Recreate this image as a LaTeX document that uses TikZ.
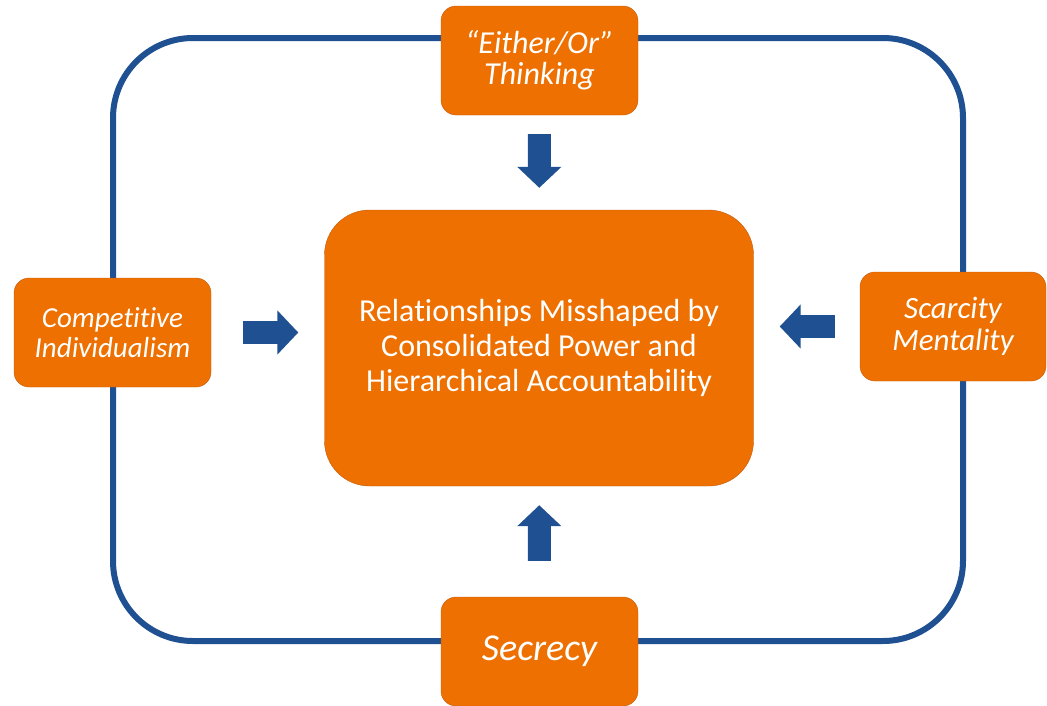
\documentclass[tikz,border=0pt]{standalone}
\usepackage{fontspec}
\setmainfont{Carlito}[Ligatures=NoCommon]
\usepackage{xcolor}
\usetikzlibrary{arrows.meta}
\usetikzlibrary{calc}
\usetikzlibrary{positioning}
\definecolor{burnt}{RGB}{237,112,0}
\definecolor{burntedge}{RGB}{196,92,18}
\definecolor{navy}{RGB}{31,80,145}

\begin{document}
\begin{tikzpicture}[x=1pt,y=-1pt,>=stealth,semithick]
  \tikzstyle{every node}=[text=white, align=center, inner sep=0pt]
  \tikzstyle{factor}=[fill=burnt, draw=burntedge, thin, rounded corners=15pt,
                      minimum width=197pt, minimum height=109pt,
                      font=\itshape\fontsize{29}{30}\selectfont]
  \tikzstyle{core}=[fill=burnt, draw=burntedge, thin, rounded corners=45pt,
                    minimum width=429pt, minimum height=276pt,
                    font=\fontsize{32}{35}\selectfont]
  \tikzstyle{ring}=[draw=navy, line width=6pt, rounded corners=80pt]
  \tikzstyle{push}=[draw=navy, line width=23pt, -{Triangle[length=21pt,width=43pt]}]

  \clip (0,0) rectangle (1047,705);
  \draw[ring] (113,38) rectangle (963,641);

  \node[core]   (hub)      at (539,348)     {Relationships Misshaped by\\Consolidated Power and\\Hierarchical Accountability};
  \node[factor, font=\itshape\fontsize{32}{31}\selectfont] (either) at (539.5,60.5) {“Either/Or”\\Thinking};
  \node[factor] (compete)  at (112.5,332.5) {Competitive\\Individualism};
  \node[factor, minimum width=186pt, font=\itshape\fontsize{31}{32}\selectfont] (scarce) at (953,326.5) {Scarcity\\Mentality};
  \node[factor, font=\itshape\fontsize{38}{38}\selectfont] (secret) at (539.5,651.5) {Secrecy};

  \draw[push, shorten <=19pt, shorten >=22pt] (either) -- (hub);
  \draw[push, shorten <=32pt, shorten >=26pt] (compete) -- (compete -| hub.west);
  \draw[push, shorten <=25pt, shorten >=26pt] (scarce) -- (scarce -| hub.east);
  \draw[push, shorten <=36pt, shorten >=19pt] (secret) -- (hub);
\end{tikzpicture}
\end{document}
